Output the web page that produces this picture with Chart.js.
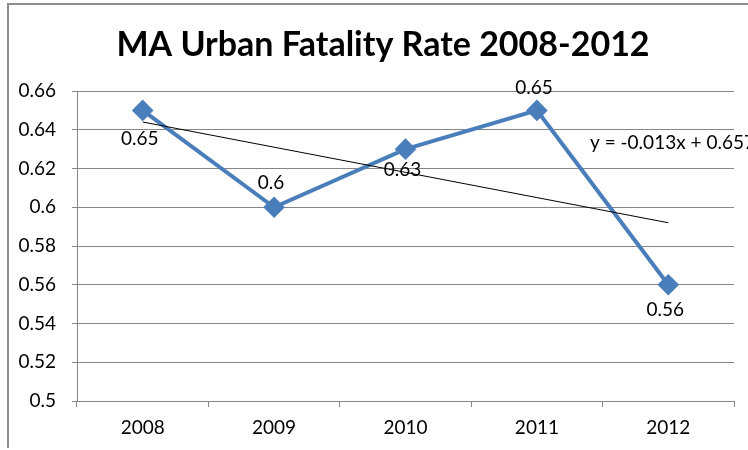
<!DOCTYPE html>
<html>
<head>
<meta charset="utf-8">
<script src="https://cdn.jsdelivr.net/npm/chart.js@4.4.1/dist/chart.umd.min.js"></script>
<style>
  html, body { margin: 0; padding: 0; background: #fff; }
  #wrap { width: 748px; height: 450px; position: relative; }
</style>
</head>
<body>
<div id="wrap"><canvas id="fatalityChart"></canvas></div>
<script>
const years = ['2008', '2009', '2010', '2011', '2012'];
const rates = [0.65, 0.6, 0.63, 0.65, 0.56];
const yTicks = [0.5, 0.52, 0.54, 0.56, 0.58, 0.6, 0.62, 0.64, 0.66];
// vertical offset of each value label from its marker (px, negative = above)
const labelOffset = [28, -24, 21, -23, 25];

// least squares fit over x = 1..n, same as the excel linear trendline
const n = rates.length;
const meanX = (n + 1) / 2;
const meanY = rates.reduce((a, b) => a + b, 0) / n;
let sxy = 0, sxx = 0;
rates.forEach((r, i) => { sxy += (i + 1 - meanX) * (r - meanY); sxx += (i + 1 - meanX) ** 2; });
const slope = sxy / sxx;
const intercept = meanY - slope * meanX;
const trend = years.map((y, i) => slope * (i + 1) + intercept);
const eqText = 'y = ' + slope.toFixed(3) + 'x + ' + intercept.toFixed(3);

const FONT = 'Lato, "Open Sans", sans-serif';

const decorPlugin = {
    id: 'decor',
    beforeDraw(chart) {
        const ctx = chart.ctx;
        ctx.save();
        ctx.fillStyle = '#fff';
        ctx.fillRect(0, 0, chart.width, chart.height);
        // frame around the chart
        ctx.strokeStyle = '#8c8c8c';
        ctx.lineWidth = 2;
        ctx.beginPath();
        ctx.moveTo(8, 448);
        ctx.lineTo(8, 4);
        ctx.lineTo(chart.width, 4);
        ctx.stroke();
        ctx.restore();
    },
    afterDraw(chart) {
        const ctx = chart.ctx;
        ctx.save();
        ctx.fillStyle = '#000';
        ctx.font = 'bold 34px ' + FONT;
        ctx.textAlign = 'center';
        ctx.textBaseline = 'middle';
        ctx.fillText('MA Urban Fatality Rate 2008-2012', 383, 45);

        ctx.font = '19px ' + FONT;
        const meta = chart.getDatasetMeta(1);
        meta.data.forEach((pt, i) => {
            ctx.fillText(String(rates[i]), pt.x - 3, pt.y + labelOffset[i]);
        });

        ctx.textAlign = 'left';
        ctx.fillText(eqText, 590, 143);
        ctx.restore();
    }
};

const ctx = document.getElementById('fatalityChart').getContext('2d');
new Chart(ctx, {
    type: 'line',
    data: {
        labels: years,
        datasets: [{
            label: 'Linear trend',
            data: trend,
            borderColor: '#000',
            borderWidth: 1,
            pointRadius: 0,
            fill: false,
            tension: 0
        }, {
            label: 'Fatality rate',
            data: rates,
            borderColor: '#4a7ebb',
            backgroundColor: '#4a7ebb',
            borderWidth: 4,
            pointStyle: 'rectRot',
            pointRadius: 8,
            pointHoverRadius: 8,
            fill: false,
            tension: 0
        }]
    },
    options: {
        responsive: true,
        maintainAspectRatio: false,
        animation: false,
        events: [],
        layout: {
            padding: { top: 91, right: 14, left: 0, bottom: 0 }
        },
        plugins: {
            legend: { display: false },
            title: { display: false },
            tooltip: { enabled: false }
        },
        scales: {
            x: {
                offset: true,
                grid: {
                    offset: true,
                    drawOnChartArea: false,
                    drawTicks: true,
                    tickLength: 6,
                    color: '#868686'
                },
                border: { color: '#868686' },
                ticks: {
                    color: '#000',
                    padding: 9,
                    font: { family: FONT, size: 19 }
                },
                afterFit(scale) {
                    scale.height = 49;
                }
            },
            y: {
                min: 0.5,
                max: 0.66,
                afterBuildTicks(scale) {
                    scale.ticks = yTicks.map(v => ({ value: v }));
                },
                grid: {
                    color: '#868686',
                    tickLength: 5
                },
                border: { color: '#868686' },
                ticks: {
                    color: '#000',
                    padding: 16,
                    font: { family: FONT, size: 19 },
                    callback: v => String(Math.round(v * 100) / 100)
                },
                afterFit(scale) {
                    scale.width = 77;
                }
            }
        }
    },
    plugins: [decorPlugin]
});
</script>
</body>
</html>
